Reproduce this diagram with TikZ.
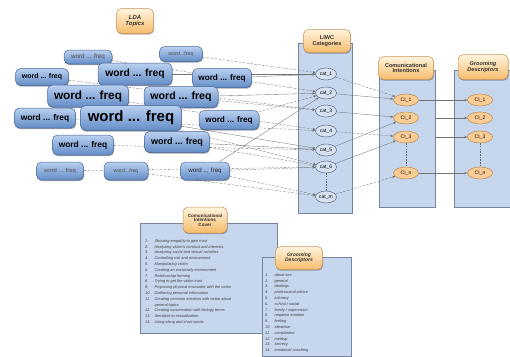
\documentclass[tikz,border=0pt]{standalone}
\usepackage{fontspec}
\setmainfont{Liberation Sans}
\usetikzlibrary{shapes.geometric,shadows,arrows.meta}

\definecolor{wftop}{RGB}{186,208,240}
\definecolor{wfbot}{RGB}{98,140,198}
\definecolor{wfedge}{RGB}{70,102,152}
\definecolor{hdrtop}{RGB}{255,244,222}
\definecolor{hdrbot}{RGB}{246,188,108}
\definecolor{hdredge}{RGB}{196,146,86}
\definecolor{panelfill}{RGB}{197,214,237}
\definecolor{paneledge}{RGB}{118,132,158}
\definecolor{catfill}{RGB}{214,226,242}
\definecolor{catedge}{RGB}{88,106,138}
\definecolor{cifill}{RGB}{250,204,150}
\definecolor{ciedge}{RGB}{186,136,78}
\definecolor{linkgray}{RGB}{115,115,115}

\newcommand\pxfont[1]{\fontsize{#1}{#1}\selectfont}

\pgfdeclarelayer{panels}
\pgfdeclarelayer{links}
\pgfsetlayers{panels,links,main}

\tikzset{
  wf/.style={rounded corners=5pt, draw=wfedge, line width=0.5pt,
    top color=wftop, bottom color=wfbot, inner sep=0pt, text=black,
    drop shadow={shadow xshift=0.6pt, shadow yshift=-1.2pt, opacity=0.35, fill=black}},
  wfbold/.style={wf, font=\bfseries\pxfont{#1}},
  wffaint/.style={wf, text=black!70, font=\pxfont{#1}},
  hdr/.style={rounded corners=5pt, draw=hdredge, line width=0.5pt,
    top color=hdrtop, bottom color=hdrbot, inner sep=0pt, align=center,
    text=black!80, font=\bfseries\pxfont{5.6},
    drop shadow={shadow xshift=0.6pt, shadow yshift=-1.2pt, opacity=0.3, fill=black}},
  panel/.style={fill=panelfill, draw=paneledge, line width=0.6pt},
  catnode/.style={ellipse, draw=catedge, fill=catfill, line width=0.5pt,
    minimum width=21pt, minimum height=12pt, inner sep=0pt, font=\pxfont{5}},
  cinode/.style={ellipse, draw=ciedge, fill=cifill, line width=0.5pt,
    minimum width=25pt, minimum height=12pt, inner sep=0pt, font=\pxfont{5}},
  link/.style={draw=linkgray, line width=0.35pt,
    -{Stealth[length=3pt,width=2.4pt]}},
  dlink/.style={link, dash pattern=on 2.5pt off 1.5pt},
  vdash/.style={draw=black!60, line width=0.5pt, dash pattern=on 1.5pt off 1.2pt},
  listtxt/.style={inner sep=0pt, anchor=north west, text=black!75,
    font=\itshape\fontsize{3.9}{5.8}\selectfont}
}

\begin{document}
\begin{tikzpicture}[x=1pt,y=-1pt]
\useasboundingbox (0,0) rectangle (510,356);

% column panels
\begin{pgfonlayer}{panels}
  \draw[panel] (298,43) rectangle (352,213);
  \draw[panel] (379,70) rectangle (435,207);
  \draw[panel] (454,70) rectangle (510,207);
  \draw[panel] (140,223) rectangle (277,333);
  \draw[panel] (262,257) rectangle (351,356);
\end{pgfonlayer}

% headers
\node[hdr, minimum width=37, minimum height=25, font=\bfseries\itshape\pxfont{6}] (lda) at (135,21) {LDA\\Topics};
\node[hdr, minimum width=47, minimum height=23] (liwc) at (327,41) {LIWC\\Categories};
\node[hdr, minimum width=55, minimum height=23] (cih) at (406,68) {Comunicational\\Intentions};
\node[hdr, minimum width=50, minimum height=25, font=\bfseries\itshape\pxfont{5.6}] (gdh) at (483,67) {Grooming\\Descriptors};
\node[hdr, minimum width=44, minimum height=26, font=\bfseries\pxfont{4.6}] (cicov) at (205,220) {Comunicational\\Intentions\\Cover};
\node[hdr, minimum width=47, minimum height=23, font=\bfseries\itshape\pxfont{5}] (gdlow) at (299,258) {Grooming\\Descriptors};

% LDA topic words
\node[wffaint=6.3, minimum width=48, minimum height=14] (n1) at (88,57) {word ... freq};
\node[wffaint=5.3, minimum width=43, minimum height=15] (n2) at (181,54) {word...freq};
\node[wfbold=7, minimum width=53, minimum height=17] (n3) at (42,77) {word ... freq};
\node[wfbold=10.3, minimum width=74, minimum height=22] (n4) at (135,74) {word ... freq};
\node[wfbold=8.2, minimum width=59, minimum height=19] (n5) at (222,78) {word ... freq};
\node[wfbold=11.8, minimum width=81, minimum height=22] (n6) at (88,96) {word ... freq};
\node[wfbold=10.6, minimum width=74, minimum height=21] (n7) at (181,97) {word ... freq};
\node[wfbold=8.4, minimum width=61, minimum height=20] (n8) at (45,118) {word ... freq};
\node[wfbold=15, minimum width=101, minimum height=25] (n9) at (131,118) {word ... freq};
\node[wfbold=8.2, minimum width=60, minimum height=19] (n10) at (229,120) {word ... freq};
\node[wfbold=8.4, minimum width=61, minimum height=20] (n11) at (83,145) {word ... freq};
\node[wfbold=9, minimum width=65, minimum height=21] (n12) at (177,142) {word ... freq};
\node[wffaint=5.9, minimum width=47, minimum height=18] (n13) at (60,171) {word ... freq};
\node[wffaint=5.2, minimum width=44, minimum height=18] (n14) at (126,171) {word...freq};
\node[wf, text=black!85, font=\pxfont{6.2}, minimum width=49, minimum height=18] (n15) at (205,171) {word ... freq};

% LIWC categories
\node[catnode] (c1) at (326,74) {cat\_1};
\node[catnode] (c2) at (326,93) {cat\_2};
\node[catnode] (c3) at (326,111) {cat\_3};
\node[catnode] (c4) at (326,131) {cat\_4};
\node[catnode] (c5) at (326,150) {cat\_5};
\node[catnode] (c6) at (326,167) {cat\_6};
\node[catnode] (cm) at (326,197) {cat\_m};

% communicational intentions
\node[cinode] (i1) at (406,100) {CI\_1};
\node[cinode] (i2) at (406,118) {CI\_2};
\node[cinode] (i3) at (406,137) {CI\_3};
\node[cinode] (in) at (406,173) {CI\_n};

% grooming descriptors
\node[cinode] (g1) at (480,100) {CI\_1};
\node[cinode] (g2) at (480,118) {CI\_2};
\node[cinode] (g3) at (480,137) {CI\_3};
\node[cinode] (gn) at (480,173) {CI\_n};

% lists
\node[listtxt] (cilist) at (145,238) {%
\begin{tabular}{@{}l@{\hspace{4pt}}l@{}}
1. & Showing empathy to gain trust\\
2. & Analyzing victim's conduct and interests\\
3. & Analyzing social and sexual activities\\
4. & Controlling risk and environment\\
5. & Manipulating victim\\
6. & Creating an exclusivity environment\\
7. & Relationship forming\\
8. & Trying to get the victim trust\\
9. & Proposing physical encounter with the victim\\
10. & Gathering personal information\\
11. & Creating common interests with victim about\\
    & general topics\\
12. & Creating conversation with biology terms\\
13. & Sensitize to sexualization\\
14. & Using slang and short words
\end{tabular}};

\node[listtxt] (gdlist) at (265,272) {%
\begin{tabular}{@{}l@{\hspace{4pt}}l@{}}
1. & about sex\\
2. & general\\
3. & dealings\\
4. & professional advice\\
5. & intimacy\\
6. & school / social\\
7. & family / supervision\\
8. & negative emotion\\
9. & feeling\\
10. & attraction\\
11. & compliment\\
12. & meetup\\
13. & secrecy\\
14. & emotional coaching
\end{tabular}};

% connectors
\begin{pgfonlayer}{links}
  \draw[dlink] (n2) -- (c1);
  \draw[link] (n4) -- (c1);
  \draw[link] (n5) -- (c1);
  \draw[dlink] (n1) -- (c2);
  \draw[link] (n7) -- (c2);
  \draw[dlink] (n7) -- (c3);
  \draw[dlink] (n3) -- (c3);
  \draw[dlink] (n10) -- (c2);
  \draw[dlink] (n6) -- (c4);
  \draw[dlink] (n8) -- (c4);
  \draw[link] (n9) -- (c5);
  \draw[dlink] (n11) -- (c5);
  \draw[link] (n12) -- (c5);
  \draw[dlink] (n12) -- (c6);
  \draw[dlink] (n9) -- (c6);
  \draw[link] (n15) -- (c2);
  \draw[dlink] (n15) -- (c6);
  \draw[dlink] (n13) -- (c6);
  \draw[dlink] (n14) -- (cm);
  \draw[dlink] (n15) -- (cm);

  \draw[dlink] (c1) -- (i1);
  \draw[link] (c2) -- (i1);
  \draw[link] (c3) -- (i2);
  \draw[dlink] (c4) -- (i3);
  \draw[link] (c5) -- (i2);
  \draw[link] (c6) -- (i3);
  \draw[dlink] (cm) -- (in);

  \draw[link] (i1) -- (g1);
  \draw[link, shorten <=16pt] (i2) -- (g2);
  \draw[link, shorten <=16pt] (i3) -- (g3);
  \draw[link] (in) -- (gn);
\end{pgfonlayer}

\draw[vdash] (c6) -- (cm);
\draw[vdash] (i3) -- (in);
\draw[vdash] (g3) -- (gn);
\end{tikzpicture}
\end{document}
